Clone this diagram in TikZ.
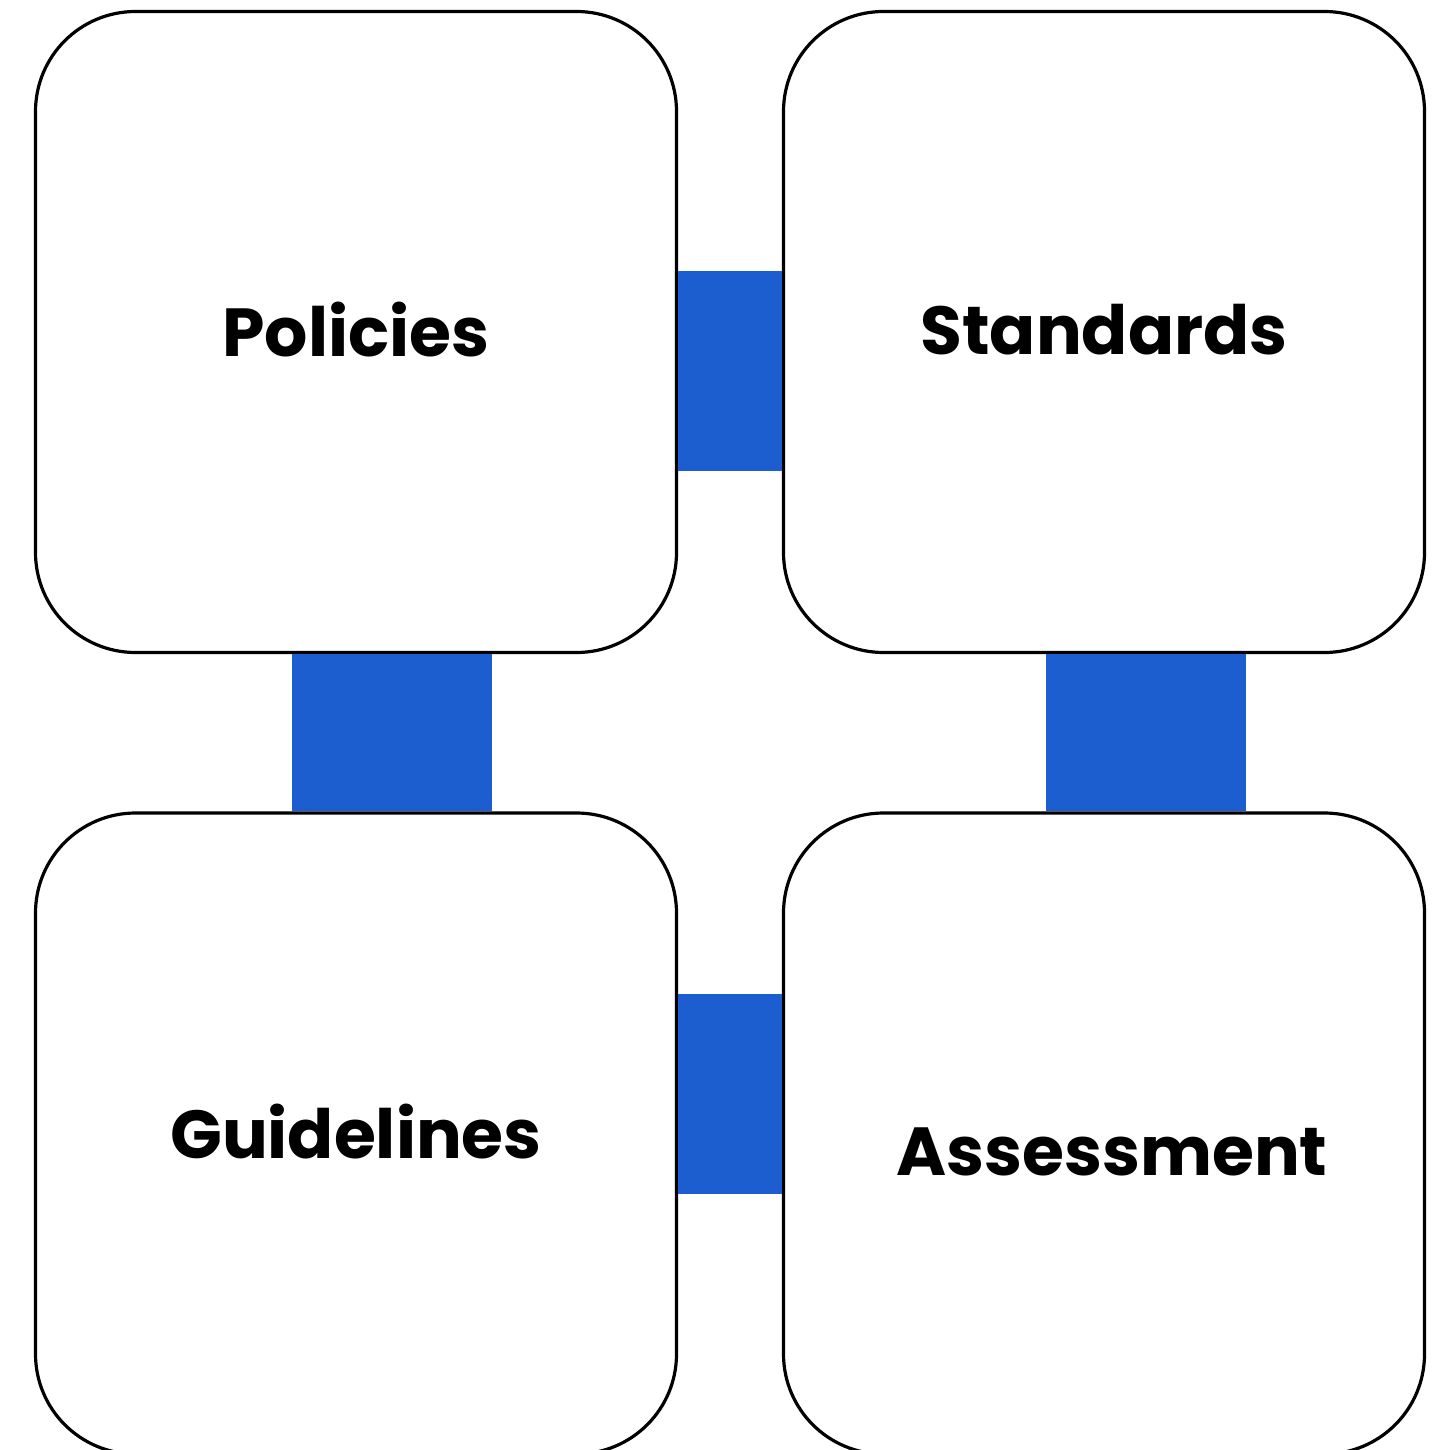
\documentclass[tikz,border=0pt]{standalone}
\usepackage{fontspec}
\setmainfont{Poppins}
\definecolor{barblue}{RGB}{28,94,208}
\begin{document}
\begin{tikzpicture}[x=1pt,y=-1pt,
  card/.style={draw=black,line width=3.2pt,fill=white,rounded corners=100pt,
    minimum width=641pt,minimum height=641pt,inner sep=0pt},
  lbl/.style={font=\fontsize{68}{74}\selectfont\bfseries,text=black,inner sep=0pt},
  bar/.style={draw=barblue,line width=200pt}]
\useasboundingbox (0,0) rectangle (1449,1450);
\begin{scope}
\clip (0,0) rectangle (1449,1450);
\node[card] (tl) at (356,332) {};
\node[card] (tr) at (1104,332) {};
\node[card] (bl) at (356,1133.5) {};
\node[card] (br) at (1104,1133.5) {};
\draw[bar] ([yshift=-39pt]tl.east) -- ([yshift=-39pt]tr.west);
\draw[bar] ([xshift=35.5pt]tl.south) -- ([xshift=35.5pt]bl.north);
\draw[bar] ([xshift=41.5pt]tr.south) -- ([xshift=41.5pt]br.north);
\draw[bar] ([yshift=39.5pt]bl.east) -- ([yshift=39.5pt]br.west);
\node[lbl] (tlt) at ([yshift=2pt]tl.center) {Policies};
\node[lbl] (trt) at ([yshift=2pt]tr.center) {Standards};
\node[lbl] (blt) at ([yshift=2pt]bl.center) {Guidelines};
\node[lbl] (brt) at ([xshift=8pt,yshift=-18pt]br.center) {Assessment};
\end{scope}
\end{tikzpicture}
\end{document}
